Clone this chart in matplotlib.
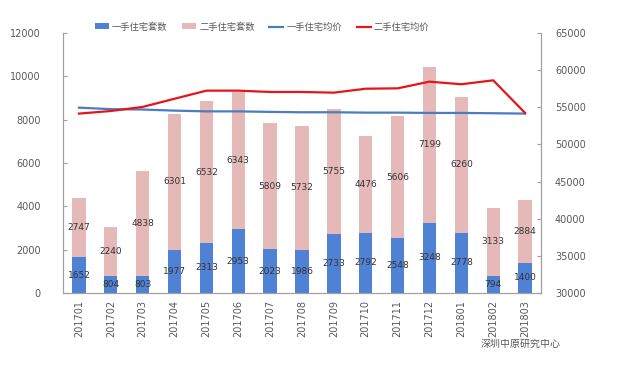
import matplotlib
matplotlib.use("Agg")
import matplotlib.pyplot as plt
import numpy as np

plt.rcParams['font.family'] = ['Noto Sans CJK SC', 'DejaVu Sans']

months = ["201701", "201702", "201703", "201704", "201705", "201706", "201707", "201708",
          "201709", "201710", "201711", "201712", "201801", "201802", "201803"]
new_units = [1652, 804, 803, 1977, 2313, 2953, 2023, 1986, 2733, 2792, 2548, 3248, 2778, 794, 1400]
used_units = [2747, 2240, 4838, 6301, 6532, 6343, 5809, 5732, 5755, 4476, 5606, 7199, 6260, 3133, 2884]
new_price = [54950, 54750, 54700, 54550, 54450, 54450, 54380, 54330, 54330, 54280, 54280, 54240, 54240, 54200, 54150]
used_price = [54150, 54500, 55050, 56150, 57240, 57240, 57060, 57060, 56970, 57500, 57550, 58450, 58100, 58630, 54240]

c_new = "#4F82D4"
c_used = "#E6B9B9"
c_line_new = "#4A7CC0"
c_line_used = "#E3161B"
gray = "#595959"

fig = plt.figure(figsize=(6.2, 3.66), dpi=100)
ax = fig.add_axes([63/620, 1-293/366, (541-63)/620, (293-33)/366])
ax2 = ax.twinx()

x = np.arange(len(months))
w = 0.42
b1 = ax.bar(x, new_units, w, color=c_new, label="一手住宅套数", zorder=2)
b2 = ax.bar(x, used_units, w, bottom=new_units, color=c_used, label="二手住宅套数", zorder=2)

for i in range(len(months)):
    ax.text(x[i], new_units[i] / 2, str(new_units[i]), ha='center', va='center',
            fontsize=6.5, color="#333333", zorder=3, family=['DejaVu Sans'])
    ax.text(x[i], new_units[i] + used_units[i] / 2, str(used_units[i]), ha='center', va='center',
            fontsize=6.5, color="#333333", zorder=3, family=['DejaVu Sans'])

l1, = ax2.plot(x, new_price, color=c_line_new, lw=1.6, label="一手住宅均价")
l2, = ax2.plot(x, used_price, color=c_line_used, lw=1.6, label="二手住宅均价")

ax.set_xlim(-0.5, len(months) - 0.5)
ax.set_ylim(0, 12000)
ax.set_yticks(np.arange(0, 12001, 2000))
ax2.set_ylim(30000, 65000)
ax2.set_yticks(np.arange(30000, 65001, 5000))

ax.set_xticks(x)
ax.set_xticklabels(months, rotation=90, fontsize=7, color=gray, family=['DejaVu Sans'])
ax.tick_params(axis='x', length=0, pad=5)
ax.tick_params(axis='y', direction='in', length=3, labelsize=7, labelcolor=gray, color="#A0A0A0", pad=16)
ax2.tick_params(axis='y', direction='in', length=3, labelsize=7, labelcolor=gray, color="#A0A0A0", pad=10)
for lab in ax.get_yticklabels() + ax2.get_yticklabels():
    lab.set_family(['DejaVu Sans'])

for a in (ax, ax2):
    a.spines['top'].set_visible(False)
    for s in ('left', 'right', 'bottom'):
        a.spines[s].set_color("#A0A0A0")
        a.spines[s].set_linewidth(0.8)

handles = [b1, b2, l1, l2]
labels = [h.get_label() for h in handles]
fig.legend(handles, labels, loc='center', bbox_to_anchor=(262/620, 1-27/366), ncol=4,
           frameon=False, fontsize=6.7, labelcolor=gray, handlelength=1.5, handleheight=0.6,
           columnspacing=1.6, handletextpad=0.3)

fig.text(561/620, 1-344/366, "深圳中原研究中心", ha='right', va='center', fontsize=7.2, color=gray)

fig.savefig("out.png", dpi=100)
